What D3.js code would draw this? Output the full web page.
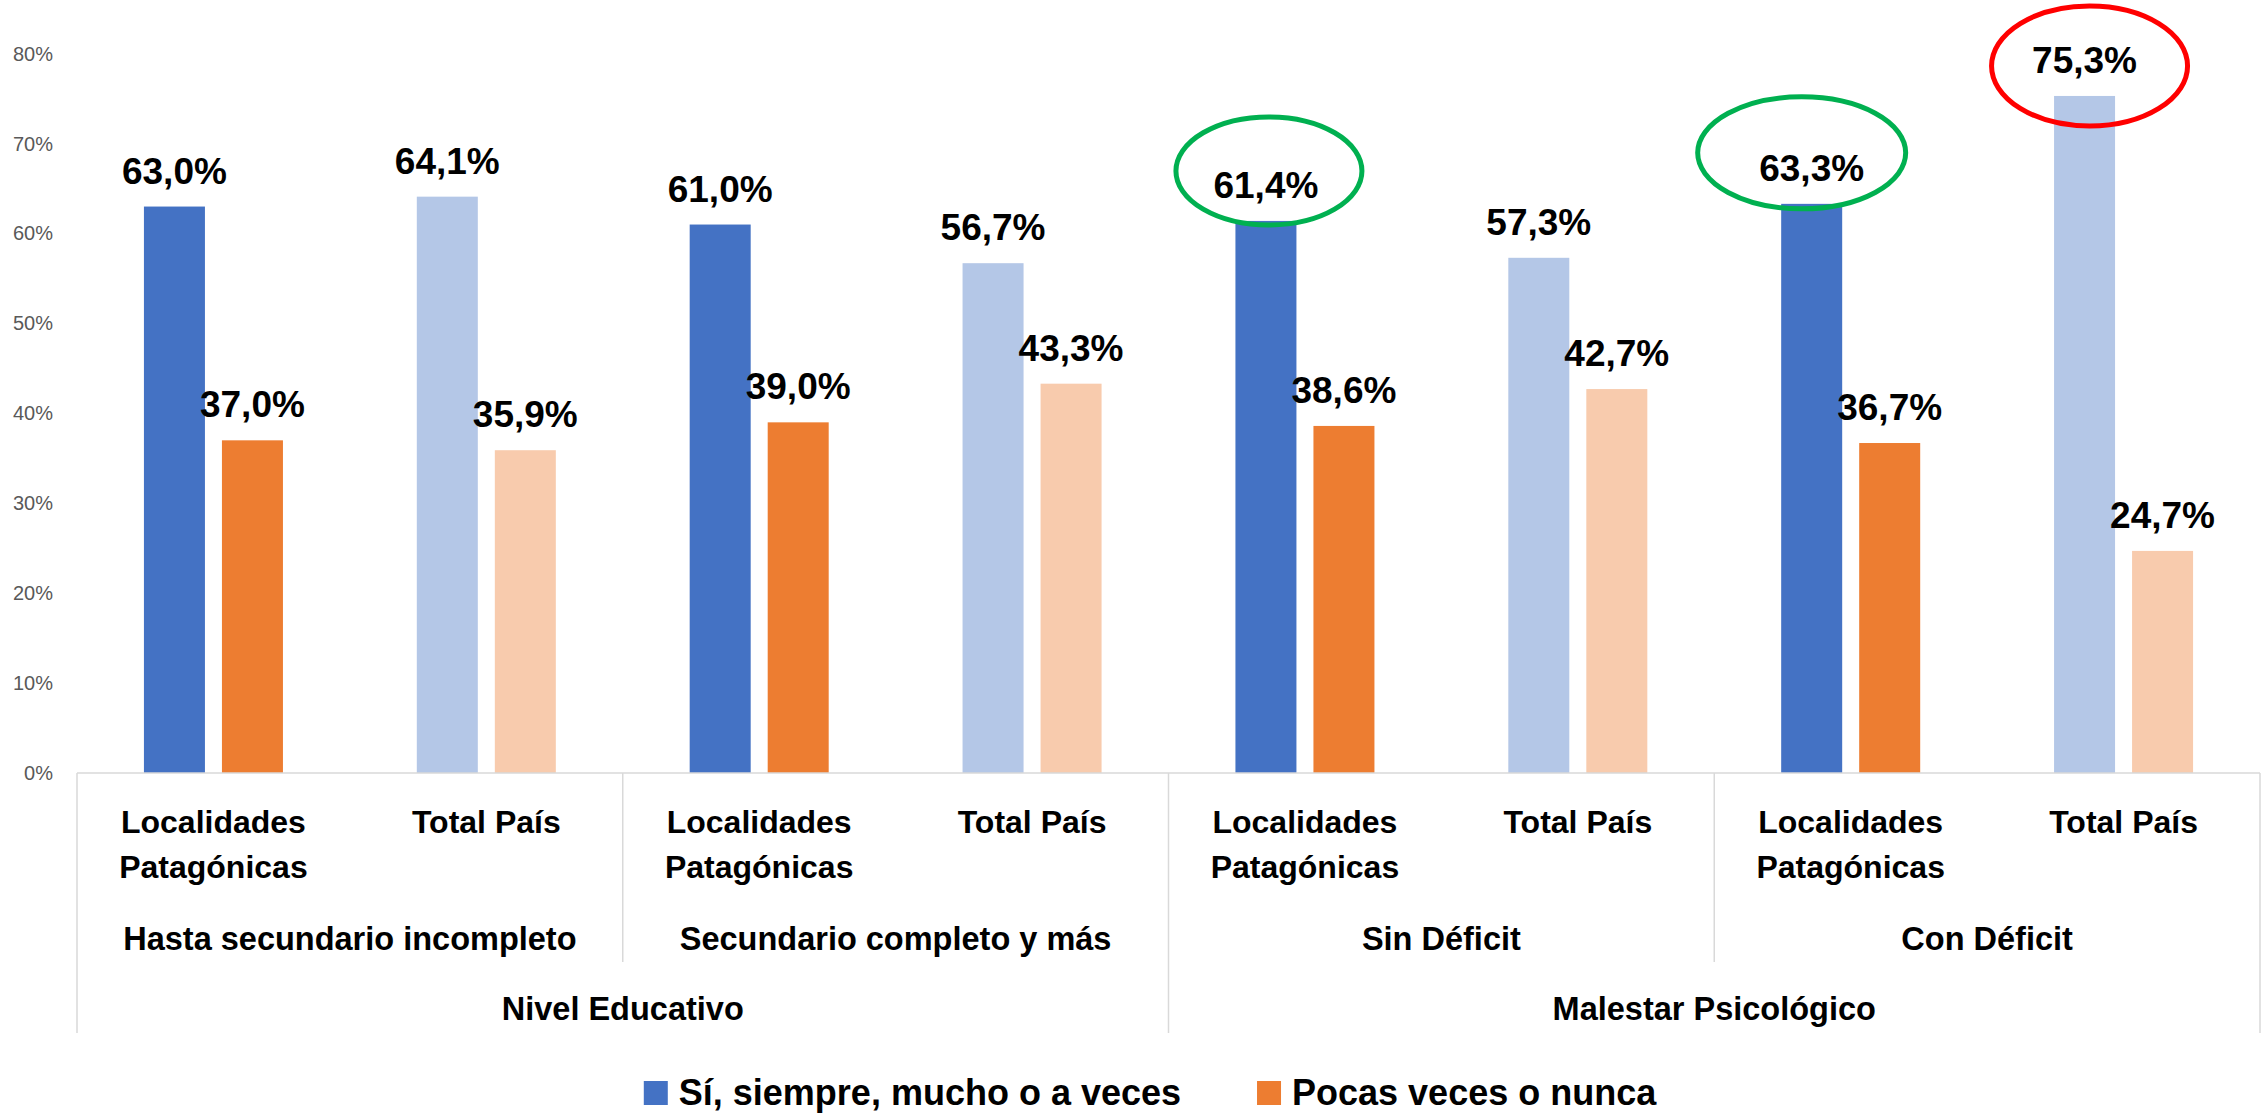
<!DOCTYPE html>
<html>
<head>
<meta charset="utf-8">
<script src="https://cdn.jsdelivr.net/npm/d3@7"></script>
<style>
    body { margin: 0; background: #fff; }
    svg { display: block; font-family: "Liberation Sans", Arial, sans-serif; }
</style>
</head>
<body>
<svg id="chart" width="2264" height="1113"></svg>
<script>

// categorias (una por par de barras)
var categories = [
    'Localidades Patagónicas', 'Total País',
    'Localidades Patagónicas', 'Total País',
    'Localidades Patagónicas', 'Total País',
    'Localidades Patagónicas', 'Total País'
];
var groups = ['Hasta secundario incompleto', 'Secundario completo y más', 'Sin Déficit', 'Con Déficit'];
var topGroups = ['Nivel Educativo', 'Malestar Psicológico'];

var seriesNames = ['Sí, siempre, mucho o a veces', 'Pocas veces o nunca'];
var siValues = [0.630, 0.641, 0.610, 0.567, 0.614, 0.573, 0.633, 0.753];
var pocasValues = [0.370, 0.359, 0.390, 0.433, 0.386, 0.427, 0.367, 0.247];

var yTicks = [0, 0.1, 0.2, 0.3, 0.4, 0.5, 0.6, 0.7, 0.8];

// barras resaltadas: [categoria, serie]
var highlighted = [[4, 0], [6, 0], [7, 0]];


(function () {

    var svg = d3.select('#chart');

    var darkColors = ['#4472C4', '#ED7D31'];
    var lightColors = ['#B4C7E7', '#F8CBAD'];
    var lineColor = '#D9D9D9';

    var left = 77, right = 2260, baseY = 773;

    var x = d3.scaleBand().domain(d3.range(categories.length)).range([left, right]);
    var xs = d3.scaleBand().domain([0, 1]).range([0, x.bandwidth()])
        .paddingInner(0.218).paddingOuter(0.858);
    var y = d3.scaleLinear().domain([0, 0.8]).range([baseY, 53.7]);

    var fmt = function (v) {
        return (v * 100).toFixed(1).replace('.', ',') + '%';
    };

    var rows = [];
    categories.forEach(function (c, i) {
        rows.push({ cat: i, s: 0, v: siValues[i] });
        rows.push({ cat: i, s: 1, v: pocasValues[i] });
    });

    function barX(d) { return x(d.cat) + xs(d.s); }

    // eje y
    var yAxis = d3.axisLeft(y).tickValues(yTicks).tickSize(0).tickPadding(0)
        .tickFormat(d3.format('.0%'));
    var ya = svg.append('g').attr('transform', 'translate(53,0)').call(yAxis);
    ya.select('.domain').remove();
    ya.selectAll('text')
        .attr('fill', '#595959')
        .style('font-size', '20px')
        .style('font-family', '"Liberation Sans", Arial, sans-serif');

    // barras
    svg.append('g').selectAll('rect')
        .data(rows).enter()
        .append('rect')
        .attr('x', barX)
        .attr('y', function (d) { return y(d.v); })
        .attr('width', xs.bandwidth())
        .attr('height', function (d) { return baseY - y(d.v); })
        .attr('fill', function (d) {
            return d.cat % 2 === 0 ? darkColors[d.s] : lightColors[d.s];
        });

    // etiquetas de datos
    svg.append('g').selectAll('text')
        .data(rows).enter()
        .append('text')
        .attr('x', function (d) { return barX(d) + xs.bandwidth() / 2; })
        .attr('y', function (d) { return y(d.v) - 23; })
        .attr('text-anchor', 'middle')
        .style('font-size', '37px')
        .style('font-weight', 'bold')
        .attr('fill', '#000')
        .text(function (d) { return fmt(d.v); });

    // linea base y separadores
    var g = svg.append('g').attr('stroke', lineColor).attr('stroke-width', 1.5);
    g.append('line').attr('x1', left).attr('x2', right).attr('y1', baseY).attr('y2', baseY);
    var perGroup = categories.length / groups.length;
    var perTop = groups.length / topGroups.length;
    d3.range(groups.length + 1).forEach(function (k) {
        var xx = x.step() * perGroup * k + left;
        var outer = k % perTop === 0;
        g.append('line')
            .attr('x1', xx).attr('x2', xx)
            .attr('y1', baseY).attr('y2', outer ? 1033 : 962);
    });

    // etiquetas de categoria (con ajuste de linea)
    var maxW = x.bandwidth() * 0.8;
    categories.forEach(function (c, i) {
        var cx = x(i) + x.bandwidth() / 2;
        var t = svg.append('text')
            .attr('x', cx)
            .attr('y', 833)
            .attr('text-anchor', 'middle')
            .style('font-size', '32px')
            .style('font-weight', 'bold');
        var line = [];
        var ts = t.append('tspan').attr('x', cx);
        c.split(' ').forEach(function (w) {
            line.push(w);
            ts.text(line.join(' '));
            if (ts.node().getComputedTextLength() > maxW && line.length > 1) {
                line.pop();
                ts.text(line.join(' '));
                line = [w];
                ts = t.append('tspan').attr('x', cx).attr('dy', 45).text(w);
            }
        });
    });

    groups.forEach(function (gname, k) {
        svg.append('text')
            .attr('x', left + x.step() * perGroup * (k + 0.5))
            .attr('y', 950)
            .attr('text-anchor', 'middle')
            .style('font-size', '32.5px')
            .style('font-weight', 'bold')
            .text(gname);
    });

    topGroups.forEach(function (tname, k) {
        svg.append('text')
            .attr('x', left + x.step() * perGroup * perTop * (k + 0.5))
            .attr('y', 1020)
            .attr('text-anchor', 'middle')
            .style('font-size', '32.5px')
            .style('font-weight', 'bold')
            .text(tname);
    });

    // elipses de resaltado
    var ellipseStyle = [
        { dx: 3, dy: -14, rx: 93, ry: 54, color: '#00B050' },
        { dx: -10, dy: -15, rx: 104, ry: 56, color: '#00B050' },
        { dx: 5, dy: 6, rx: 98, ry: 60, color: '#FF0000' }
    ];
    highlighted.forEach(function (h, k) {
        var d = { cat: h[0], s: h[1], v: h[1] === 0 ? siValues[h[0]] : pocasValues[h[0]] };
        var st = ellipseStyle[k];
        svg.append('ellipse')
            .attr('cx', barX(d) + xs.bandwidth() / 2 + st.dx)
            .attr('cy', y(d.v) - 23 - 13 + st.dy)
            .attr('rx', st.rx)
            .attr('ry', st.ry)
            .attr('fill', 'none')
            .attr('stroke', st.color)
            .attr('stroke-width', 5);
    });

    // leyenda
    var leg = svg.append('g');
    var lx = 0;
    seriesNames.forEach(function (n, i) {
        leg.append('rect')
            .attr('x', lx).attr('y', 1081)
            .attr('width', 24).attr('height', 24)
            .attr('fill', darkColors[i]);
        var t = leg.append('text')
            .attr('x', lx + 35).attr('y', 1105)
            .style('font-size', '36px')
            .style('font-weight', 'bold')
            .text(n);
        lx += 35 + t.node().getComputedTextLength() + 76;
    });
    var lw = lx - 76;
    leg.attr('transform', 'translate(' + (1150 - lw / 2) + ',0)');

})();
</script>
</body>
</html>
